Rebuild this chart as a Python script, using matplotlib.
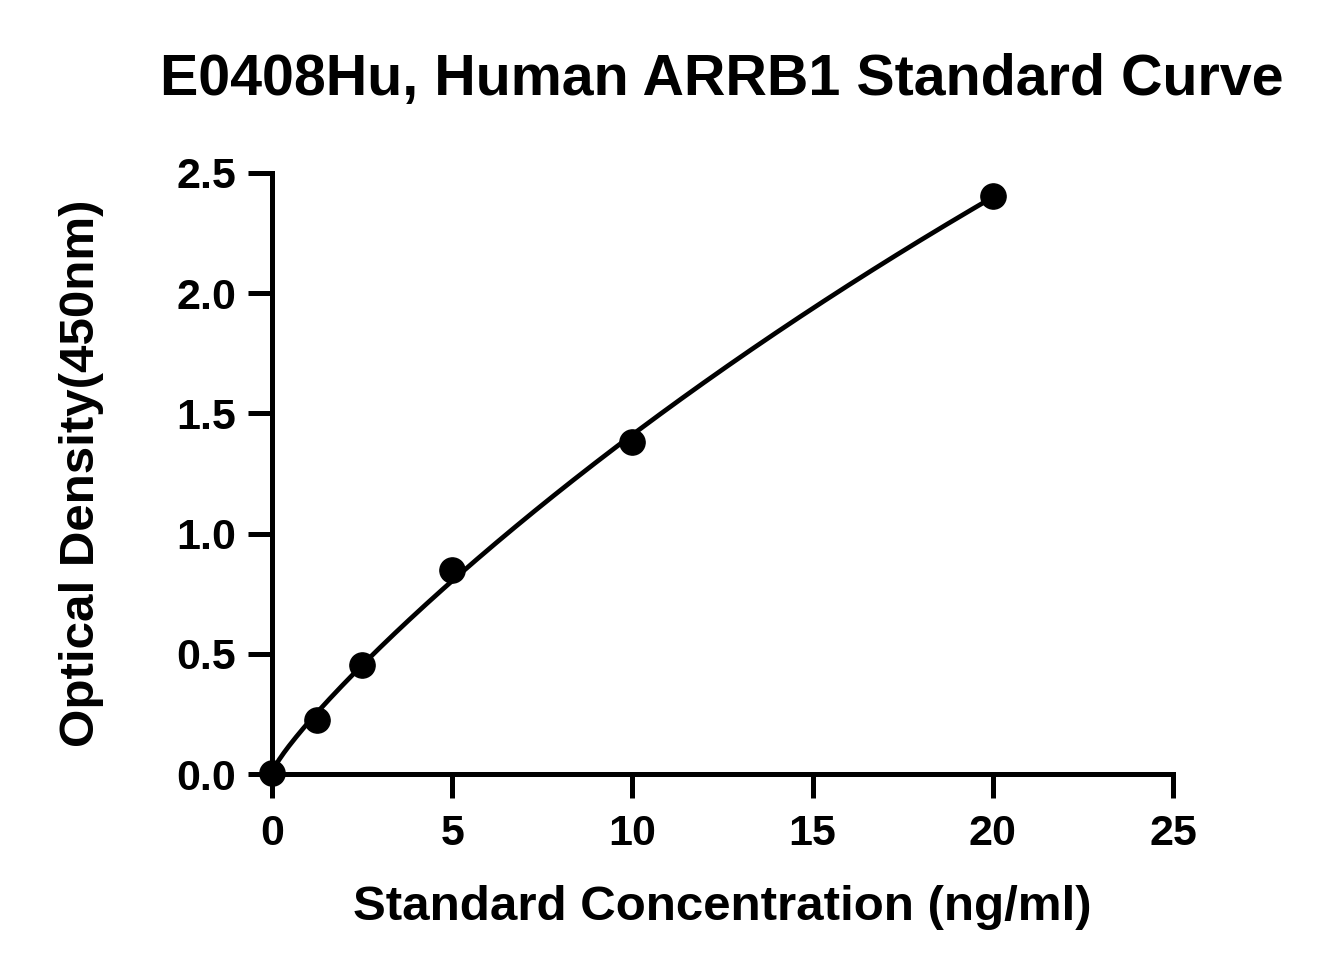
import numpy as np
import matplotlib.pyplot as plt

plt.rcParams["font.family"] = ["Liberation Sans", "DejaVu Sans"]
plt.rcParams["font.weight"] = "bold"

# standard points
conc = [0, 1.25, 2.5, 5, 10, 20]
od = [0.005, 0.225, 0.455, 0.85, 1.38, 2.405]

title = "E0408Hu, Human ARRB1 Standard Curve"
xlabel = "Standard Concentration (ng/ml)"
ylabel = "Optical Density(450nm)"
xticks = [0, 5, 10, 15, 20, 25]
yticks = [0.0, 0.5, 1.0, 1.5, 2.0, 2.5]

# smooth fitted curve through the standards (polynomial in sqrt of concentration)
coef = np.polyfit(np.sqrt(conc), od, 3)
xs = np.linspace(0, max(conc), 300)
ys = np.polyval(coef, np.sqrt(xs))

fig = plt.figure(figsize=(13.29, 9.75), dpi=100)
ax = fig.add_axes([272 / 1329, 1 - 774 / 975, (1173 - 272) / 1329, (774 - 173) / 975])

ax.plot(xs, ys, color="black", lw=3.4, zorder=2)
ax.scatter(conc, od, s=330, color="black", zorder=3, clip_on=False)

ax.set_xlim(0, 25)
ax.set_ylim(0, 2.5)
ax.set_xticks(xticks)
ax.set_yticks(yticks)
ax.set_xticklabels([str(t) for t in xticks])
ax.set_yticklabels([f"{t:.1f}" for t in yticks])

for s in ["top", "right"]:
    ax.spines[s].set_visible(False)
for s in ["left", "bottom"]:
    ax.spines[s].set_linewidth(3.6)
ax.tick_params(width=3.6, length=17, labelsize=31, pad=9)
ax.tick_params(axis="x", pad=12)

ax.set_xlabel(xlabel, fontsize=35.5, fontweight="bold", labelpad=22)
ax.set_ylabel(ylabel, fontsize=35.5, fontweight="bold", labelpad=52)
fig.text(0.543, 0.918, title, fontsize=41.3, fontweight="bold", ha="center", va="center")

plt.savefig("out.png", dpi=100)
plt.close()
